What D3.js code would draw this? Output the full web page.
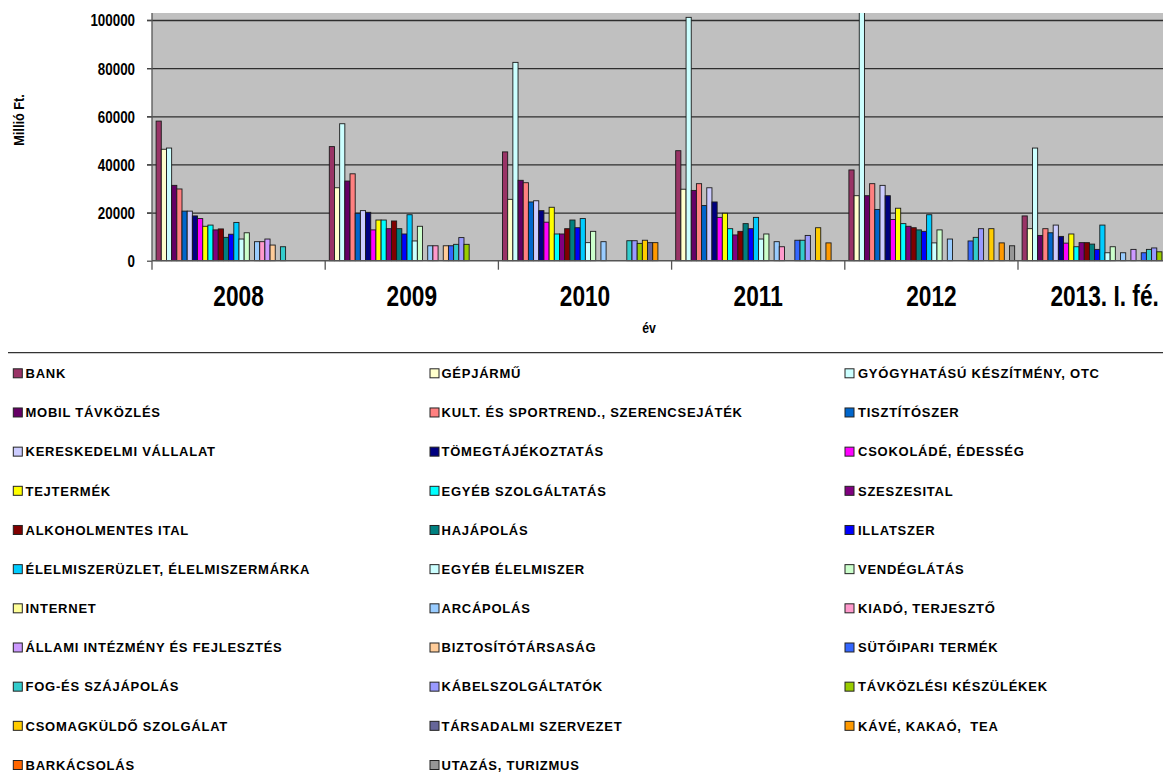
<!DOCTYPE html>
<html>
<head>
<meta charset="utf-8">
<script src="https://cdn.jsdelivr.net/npm/d3@7"></script>
<style>
  html, body { margin: 0; padding: 0; background: #fff; }
  svg { display: block; }
  text { font-family: "Liberation Sans", Arial, sans-serif; font-weight: bold; fill: #000; }
</style>
</head>
<body>
<svg id="chart" width="1163" height="774"></svg>
<script>
// ---- data ----
const categories = ["2008", "2009", "2010", "2011", "2012", "2013. I. fé."];
const yTicks = [0, 20000, 40000, 60000, 80000, 100000];
const seriesNames = [
  "BANK", "GÉPJÁRMŰ", "GYÓGYHATÁSÚ KÉSZÍTMÉNY, OTC",
  "MOBIL TÁVKÖZLÉS", "KULT. ÉS SPORTREND., SZERENCSEJÁTÉK", "TISZTÍTÓSZER",
  "KERESKEDELMI VÁLLALAT", "TÖMEGTÁJÉKOZTATÁS", "CSOKOLÁDÉ, ÉDESSÉG",
  "TEJTERMÉK", "EGYÉB SZOLGÁLTATÁS", "SZESZESITAL",
  "ALKOHOLMENTES ITAL", "HAJÁPOLÁS", "ILLATSZER",
  "ÉLELMISZERÜZLET, ÉLELMISZERMÁRKA", "EGYÉB ÉLELMISZER", "VENDÉGLÁTÁS",
  "INTERNET", "ARCÁPOLÁS", "KIADÓ, TERJESZTŐ",
  "ÁLLAMI INTÉZMÉNY ÉS FEJLESZTÉS", "BIZTOSÍTÓTÁRSASÁG", "SÜTŐIPARI TERMÉK",
  "FOG-ÉS SZÁJÁPOLÁS", "KÁBELSZOLGÁLTATÓK", "TÁVKÖZLÉSI KÉSZÜLÉKEK",
  "CSOMAGKÜLDŐ SZOLGÁLAT", "TÁRSADALMI SZERVEZET", "KÁVÉ, KAKAÓ,  TEA",
  "BARKÁCSOLÁS", "UTAZÁS, TURIZMUS"
];
const seriesColors = [
  "#993366", "#FFFFCC", "#CCFFFF",
  "#660066", "#FF8080", "#0066CC",
  "#CCCCFF", "#000080", "#FF00FF",
  "#FFFF00", "#00FFFF", "#800080",
  "#800000", "#008080", "#0000FF",
  "#00CCFF", "#CCFFFF", "#CCFFCC",
  "#FFFF99", "#99CCFF", "#FF99CC",
  "#CC99FF", "#FFCC99", "#3366FF",
  "#33CCCC", "#9999FF", "#99CC00",
  "#FFCC00", "#666699", "#FF9900",
  "#FF6600", "#969696"
];
// values per series, one per category (Millió Ft.); null = no bar
const bank        = [58000, 47400, 45200, 45700, 37700, 18600];
const gepjarmu    = [46300, 30300, 25500, 29700, 27000, 13300];
const gyogy       = [46800, 56900, 82400, 101100, 118000, 46800];
const mobil       = [31300, 33100, 33400, 29200, 27000, 10500];
const kult        = [29800, 36100, 32400, 32000, 32000, 13300];
const tisztito    = [20600, 19700, 24400, 22900, 21300, 11600];
const keresk      = [20600, 20800, 24900, 30300, 31300, 14800];
const tomeg       = [18600, 20100, 20800, 24400, 27000, 10100];
const csoki       = [17500, 12800, 16000, 18000, 17100, 7300];
const tej         = [14300, 16900, 22200, 19700, 21800, 11100];
const egyebSzolg  = [14800, 16900, 11100, 13300, 15400, 5800];
const szesz       = [12800, 13300, 11100, 10700, 14300, 7500];
const alkmentes   = [13200, 16500, 13300, 12200, 13700, 7500];
const hajapolas   = [9700, 13300, 16900, 15400, 12800, 6900];
const illatszer   = [11000, 11100, 13700, 13300, 12200, 4700];
const elelmUzlet  = [15900, 19100, 17500, 18000, 19100, 14800];
const egyebElelm  = [9000, 8200, 7500, 9000, 7400, 3300];
const vendeg      = [11600, 14300, 12200, 11100, 12800, 5800];
const internet    = [null, null, null, null, null, null];
const arcapolas   = [7900, 6200, 7900, 7900, 9000, 3300];
const kiado       = [7900, 6200, null, 5800, null, null];
const allami      = [9000, null, null, null, null, 4700];
const biztosito   = [6500, 6200, null, null, null, null];
const sutoipari   = [null, 6200, null, 8500, 8200, 3300];
const fogszaj     = [5800, 6800, 8300, 8500, 9700, 4700];
const kabel       = [null, 9600, 8300, 10500, 13300, 5300];
const tavkeszulek = [null, 6800, 7200, null, null, 3700];
const csomag      = [null, null, 8500, 13700, 13300, null];
const tarsadalmi  = [null, null, 7500, null, null, null];
const kave        = [null, null, 7500, 7400, 7400, null];
const barkacs     = [null, null, null, null, null, null];
const utazas      = [null, null, null, null, 6200, null];

const seriesValues = [
  bank, gepjarmu, gyogy, mobil, kult, tisztito, keresk, tomeg, csoki,
  tej, egyebSzolg, szesz, alkmentes, hajapolas, illatszer, elelmUzlet,
  egyebElelm, vendeg, internet, arcapolas, kiado, allami, biztosito,
  sutoipari, fogszaj, kabel, tavkeszulek, csomag, tarsadalmi, kave,
  barkacs, utazas
];

// ---- layout ----
const W = 1163, H = 774;
const plotLeft = 152, plotTop = 13, plotBottom = 260.7;
const catW = 173.2;
const svg = d3.select("#chart");

const x0 = d3.scaleBand().domain(categories)
  .range([plotLeft, plotLeft + catW * categories.length]).padding(0);
const x1 = d3.scaleBand().domain(d3.range(seriesNames.length))
  .range([3.6, 3.6 + 5.18 * seriesNames.length]).padding(0);
const y = d3.scaleLinear().domain([0, 100000]).range([plotBottom, 20]);

// plot background
svg.append("rect")
  .attr("x", plotLeft).attr("y", plotTop)
  .attr("width", W - plotLeft).attr("height", plotBottom - plotTop)
  .attr("fill", "#C0C0C0");

svg.append("clipPath").attr("id", "plotclip")
  .append("rect")
  .attr("x", plotLeft).attr("y", plotTop)
  .attr("width", W - plotLeft).attr("height", plotBottom - plotTop + 1);

// gridlines (with left tick stubs)
const grid = svg.append("g")
  .attr("transform", `translate(${plotLeft - 5},0)`)
  .call(d3.axisRight(y).tickValues(yTicks.filter(v => v > 0)).tickSize(W - plotLeft + 5).tickFormat(""));
grid.select(".domain").remove();
grid.selectAll("line").attr("stroke", "#2e2e2e").attr("stroke-width", 1.3);

// y labels
const yAx = svg.append("g")
  .attr("transform", `translate(${plotLeft},0)`)
  .call(d3.axisLeft(y).tickValues(yTicks).tickSize(5).tickFormat(d3.format("d")));
yAx.select(".domain").remove();
yAx.selectAll("line").attr("stroke", "#444").attr("stroke-width", 1.2);
yAx.selectAll("text")
  .attr("x", null).attr("dy", null)
  .attr("transform", "translate(-17,5.9) scale(0.82,1)")
  .attr("text-anchor", "end")
  .style("font-size", "16.3px")
  .style("font-family", "'Liberation Sans', Arial, sans-serif")
  .style("font-weight", "bold");

// bars
const barsG = svg.append("g").attr("clip-path", "url(#plotclip)");
const groups = barsG.selectAll("g.cat")
  .data(categories)
  .join("g")
  .attr("class", "cat")
  .attr("transform", d => `translate(${x0(d)},0)`);

groups.selectAll("rect")
  .data((c, ci) => seriesValues.map((vals, si) => ({ si, v: vals[ci] })).filter(d => d.v != null))
  .join("rect")
  .attr("x", d => x1(d.si) + 0.5)
  .attr("y", d => y(d.v))
  .attr("width", x1.bandwidth())
  .attr("height", d => y(0) - y(d.v))
  .attr("fill", d => seriesColors[d.si])
  .attr("stroke", "#1a1a1a")
  .attr("stroke-width", 0.9);

// axes lines
svg.append("line")
  .attr("x1", plotLeft).attr("x2", plotLeft)
  .attr("y1", plotTop).attr("y2", plotBottom)
  .attr("stroke", "#555").attr("stroke-width", 1.3);
svg.append("line")
  .attr("x1", plotLeft).attr("x2", W)
  .attr("y1", plotBottom).attr("y2", plotBottom)
  .attr("stroke", "#555").attr("stroke-width", 1.5);

// category boundary ticks
const bounds = categories.map(c => x0(c));
svg.append("g").selectAll("line")
  .data(bounds)
  .join("line")
  .attr("x1", d => d).attr("x2", d => d)
  .attr("y1", plotBottom).attr("y2", plotBottom + 9)
  .attr("stroke", "#555").attr("stroke-width", 1.3);

// category labels
svg.append("g").selectAll("g")
  .data(categories)
  .join("g")
  .attr("transform", d => `translate(${x0(d) + x0.bandwidth() / 2},305.7) scale(0.785,1)`)
  .append("text")
  .attr("text-anchor", "middle")
  .style("font-size", "28.9px")
  .text(d => d);

// axis titles
svg.append("g")
  .attr("transform", "translate(649,333) scale(0.82,1)")
  .append("text")
  .attr("text-anchor", "middle")
  .style("font-size", "15px")
  .text("év");

svg.append("g")
  .attr("transform", "translate(24,120) rotate(-90) scale(0.82,1)")
  .append("text")
  .attr("text-anchor", "middle")
  .style("font-size", "15.5px")
  .text("Millió Ft.");

// legend
svg.append("line")
  .attr("x1", 8).attr("x2", W)
  .attr("y1", 352.7).attr("y2", 352.7)
  .attr("stroke", "#333").attr("stroke-width", 1.3);

const colSwatch = [13.3, 430, 845];
const colText = [25.5, 441.5, 858];
const legend = svg.append("g").selectAll("g")
  .data(seriesNames.map((n, i) => ({ n, i })))
  .join("g")
  .attr("transform", d => `translate(0,${373.3 + Math.floor(d.i / 3) * 39.17})`);

legend.append("rect")
  .attr("x", d => colSwatch[d.i % 3])
  .attr("y", -4.5)
  .attr("width", 9).attr("height", 9)
  .attr("fill", d => seriesColors[d.i])
  .attr("stroke", "#222").attr("stroke-width", 1);

legend.append("text")
  .attr("x", d => colText[d.i % 3])
  .attr("y", 4.8)
  .style("font-size", "13px")
  .style("letter-spacing", "0.75px")
  .style("white-space", "pre")
  .text(d => d.n);
</script>
</body>
</html>
